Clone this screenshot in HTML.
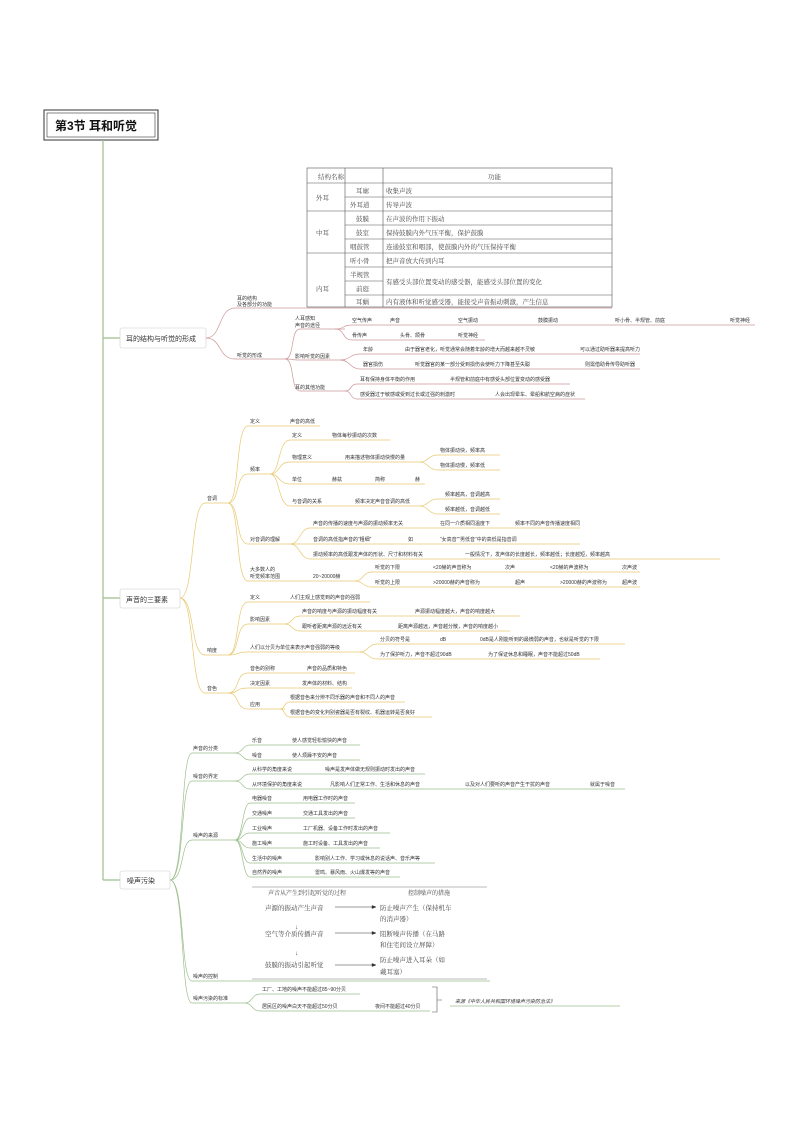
<!DOCTYPE html>
<html><head><meta charset="utf-8"><style>
body{margin:0;background:#fff}
svg{display:block}
text{font-family:"Liberation Sans","Noto Sans CJK SC",sans-serif;font-size:5px;fill:#333}
.t{font-family:"Liberation Serif","Noto Serif CJK SC",serif;font-size:6.5px;fill:#444}
.r{stroke:#c99;fill:none;stroke-width:.7}
.y{stroke:#e8c870;fill:none;stroke-width:.7}
.g{stroke:#9ebf8e;fill:none;stroke-width:.7}
</style></head><body>
<svg width="794" height="1121" viewBox="0 0 794 1121">
<!-- title -->
<rect x="44" y="110" width="114" height="30" fill="#fff" stroke="#333" stroke-width="1"/>
<rect x="47" y="113" width="108" height="24" fill="none" stroke="#333" stroke-width=".6"/>
<text x="55" y="130" style="font-size:12px;font-weight:bold;fill:#111">第3节 耳和听觉</text>
<!-- trunk -->
<path d="M103 140 V880 M103 338 H120 M103 598 H120 M103 880 H120" stroke="#9ebf8e" stroke-width="1.2" fill="none"/>
<rect x="120" y="328" width="86" height="20" rx="2" fill="#fff" stroke="#ccc" stroke-width=".6"/>
<text x="126" y="341" style="font-size:7px">耳的结构与听觉的形成</text>
<rect x="120" y="589" width="60" height="19" rx="2" fill="#fff" stroke="#ccc" stroke-width=".6"/>
<text x="126" y="602" style="font-size:7px">声音的三要素</text>
<rect x="120" y="871" width="50" height="18" rx="2" fill="#fff" stroke="#ccc" stroke-width=".6"/>
<text x="127" y="883" style="font-size:7px">噪声污染</text>

<!-- table -->
<g stroke="#555" stroke-width=".6" fill="none">
<rect x="307" y="168" width="305" height="139"/>
<path d="M307 183H612 M345 197H612 M307 211H612 M345 225H612 M345 239H612 M307 253H612 M345 267H612 M345 281H383 M345 295H612 M345 183V307 M383 168V307 M345 168V183"/>
</g>
<text class="t" x="318" y="179">结构名称</text><text class="t" x="488" y="179">功能</text>
<text class="t" x="316" y="200">外耳</text><text class="t" x="316" y="235">中耳</text><text class="t" x="316" y="291">内耳</text>
<text class="t" x="356" y="193">耳廓</text><text class="t" x="386" y="193">收集声波</text>
<text class="t" x="350" y="207">外耳道</text><text class="t" x="386" y="207">传导声波</text>
<text class="t" x="356" y="221">鼓膜</text><text class="t" x="386" y="221">在声波的作用下振动</text>
<text class="t" x="356" y="235">鼓室</text><text class="t" x="386" y="235">保持鼓膜内外气压平衡，保护鼓膜</text>
<text class="t" x="350" y="249">咽鼓管</text><text class="t" x="386" y="249">连通鼓室和咽部，使鼓膜内外的气压保持平衡</text>
<text class="t" x="350" y="263">听小骨</text><text class="t" x="386" y="263">把声音放大传到内耳</text>
<text class="t" x="350" y="277">半规管</text><text class="t" x="386" y="284">有感受头部位置变动的感受器，能感受头部位置的变化</text>
<text class="t" x="356" y="291">前庭</text>
<text class="t" x="356" y="304">耳蜗</text><text class="t" x="386" y="304">内有液体和听觉感受器，能接受声音振动刺激，产生信息</text>

<!-- Section 1 -->
<g class="r">
<path d="M206 338 C222 338 218 308 235 308 H612"/>
<path d="M206 338 C222 338 218 359 235 359 H285"/>
<path d="M285 359 C295 359 290 329 300 329 H345"/>
<path d="M285 359 C295 359 290 360 300 360 H345"/>
<path d="M285 359 C295 359 290 391 300 391 H345"/>
<path d="M335 329 C345 329 342 325 352 325 H755"/>
<path d="M335 329 C345 329 342 340 352 340 H485"/>
<path d="M340 360 C350 360 350 354 360 354 H640"/>
<path d="M340 360 C350 360 350 369 360 369 H640"/>
<path d="M345 391 C352 391 350 384 357 384 H570"/>
<path d="M345 391 C352 391 350 399 357 399 H585"/>
</g>
<text x="237" y="300">耳的结构</text><text x="237" y="306">及各部分的功能</text>
<text x="237" y="357">听觉的形成</text>
<text x="295" y="320">人耳感知</text><text x="295" y="327">声音的途径</text>
<text x="352" y="322">空气传声</text><text x="390" y="322">声音</text><text x="458" y="322">空气振动</text><text x="538" y="322">鼓膜振动</text><text x="615" y="322">听小骨、半规管、前庭</text><text x="730" y="322">听觉神经</text>
<text x="352" y="337">骨传声</text><text x="400" y="337">头骨、颌骨</text><text x="458" y="337">听觉神经</text>
<text x="295" y="358">影响听觉的因素</text>
<text x="363" y="351">年龄</text><text x="405" y="351">由于器官老化，听觉通常会随着年龄的增大而越来越不灵敏</text><text x="580" y="351">可以通过助听器来提高听力</text>
<text x="363" y="366">器官损伤</text><text x="415" y="366">听觉器官的某一部分受到损伤会使听力下降甚至失聪</text><text x="585" y="366">则需借助骨传导助听器</text>
<text x="295" y="389">耳的其他功能</text>
<text x="360" y="381">耳有保持身体平衡的作用</text><text x="450" y="381">半规管和前庭中有感受头部位置变动的感受器</text>
<text x="360" y="396">感受器过于敏感或受到过长或过强的刺激时</text><text x="495" y="396">人会出现晕车、晕船和航空病的症状</text>

<!-- Section 2 -->
<g class="y">
<path d="M180 598 C195 598 190 503 205 503 H228"/>
<path d="M180 598 C195 598 190 655 205 655 H228"/>
<path d="M180 598 C195 598 190 693 205 693 H228"/>
<path d="M228 503 C240 503 235 426 248 426 H320"/>
<path d="M228 503 C240 503 235 474 248 474 H270"/>
<path d="M228 503 C240 503 235 544 248 544 H290"/>
<path d="M228 503 C240 503 235 581 248 581 H300"/>
<path d="M270 474 C280 474 278 440 290 440 H390"/>
<path d="M270 474 C280 474 278 462 290 462 H420"/>
<path d="M270 474 C280 474 278 484 290 484 H425"/>
<path d="M270 474 C280 474 278 506 290 506 H420"/>
<path d="M420 462 C428 462 428 455 438 455 H500"/>
<path d="M420 462 C428 462 428 470 438 470 H500"/>
<path d="M420 506 C428 506 428 499 438 499 H500"/>
<path d="M420 506 C428 506 428 514 438 514 H500"/>
<path d="M290 544 C300 544 300 528 310 528 H580"/>
<path d="M290 544 C300 544 300 544 310 544 H580"/>
<path d="M290 544 C300 544 300 559 310 559 H720"/>
<path d="M300 581 H355"/>
<path d="M355 581 C363 581 363 572 372 572 H640"/>
<path d="M355 581 C363 581 363 587 372 587 H640"/>
<path d="M228 655 C240 655 235 602 248 602 H370"/>
<path d="M228 655 C240 655 235 624 248 624 H285"/>
<path d="M228 655 C240 655 235 652 248 652 H360"/>
<path d="M285 624 C292 624 292 616 300 616 H520"/>
<path d="M285 624 C292 624 292 631 300 631 H510"/>
<path d="M360 652 C368 652 368 644 377 644 H625"/>
<path d="M360 652 C368 652 368 659 377 659 H600"/>
<path d="M228 693 C240 693 235 673 248 673 H355"/>
<path d="M228 693 C240 693 235 688 248 688 H352"/>
<path d="M228 693 C240 693 235 709 248 709 H285"/>
<path d="M280 709 C285 709 284 702 290 702 H405"/>
<path d="M280 709 C285 709 284 717 290 717 H432"/>
</g>
<text x="207" y="500">音调</text>
<text x="250" y="423">定义</text><text x="290" y="423">声音的高低</text>
<text x="250" y="471">频率</text>
<text x="292" y="437">定义</text><text x="332" y="437">物体每秒振动的次数</text>
<text x="292" y="459">物理意义</text><text x="345" y="459">用来描述物体振动快慢的量</text>
<text x="440" y="452">物体振动快，频率高</text><text x="440" y="467">物体振动慢，频率低</text>
<text x="292" y="481">单位</text><text x="332" y="481">赫兹</text><text x="375" y="481">简称</text><text x="415" y="481">赫</text>
<text x="292" y="503">与音调的关系</text><text x="355" y="503">频率决定声音音调的高低</text>
<text x="445" y="496">频率越高，音调越高</text><text x="445" y="511">频率越低，音调越低</text>
<text x="250" y="541">对音调的理解</text>
<text x="313" y="525">声音的传播的速度与声源的振动频率无关</text><text x="440" y="525">在同一介质相同温度下</text><text x="515" y="525">频率不同的声音传播速度相同</text>
<text x="313" y="541">音调的高低指声音的“粗细”</text><text x="408" y="541">如</text><text x="440" y="541">“女高音”“男低音”中的高低是指音调</text>
<text x="313" y="556">振动频率的高低跟发声体的形状、尺寸和材料有关</text><text x="465" y="556">一般情况下，发声体的长度越长，频率越低；长度越短，频率越高</text>
<text x="250" y="571">大多数人的</text><text x="250" y="578">听觉频率范围</text><text x="313" y="578">20~20000赫</text>
<text x="375" y="569">听觉的下限</text><text x="433" y="569">&lt;20赫的声音称为</text><text x="505" y="569">次声</text><text x="550" y="569">&lt;20赫的声波称为</text><text x="622" y="569">次声波</text>
<text x="375" y="584">听觉的上限</text><text x="433" y="584">&gt;20000赫的声音称为</text><text x="515" y="584">超声</text><text x="560" y="584">&gt;20000赫的声波称为</text><text x="622" y="584">超声波</text>
<text x="207" y="652">响度</text>
<text x="250" y="599">定义</text><text x="290" y="599">人们主观上感觉到的声音的强弱</text>
<text x="250" y="621">影响因素</text>
<text x="302" y="613">声音的响度与声源的振动幅度有关</text><text x="415" y="613">声源振动幅度越大，声音的响度越大</text>
<text x="302" y="628">跟听者距离声源的远近有关</text><text x="398" y="628">距离声源越远，声音越分散，声音的响度越小</text>
<text x="250" y="649">人们以分贝为单位来表示声音强弱的等级</text>
<text x="380" y="641">分贝的符号是</text><text x="440" y="641">dB</text><text x="480" y="641">0dB是人刚能听到的最微弱的声音，也就是听觉的下限</text>
<text x="380" y="656">为了保护听力，声音不超过90dB</text><text x="488" y="656">为了保证休息和睡眠，声音不能超过50dB</text>
<text x="207" y="690">音色</text>
<text x="250" y="670">音色的别称</text><text x="307" y="670">声音的品质和特色</text>
<text x="250" y="685">决定因素</text><text x="302" y="685">发声体的材料、结构</text>
<text x="250" y="706">应用</text>
<text x="290" y="699">根据音色来分辨不同乐器的声音和不同人的声音</text>
<text x="290" y="714">根据音色的变化判别瓷器是否有裂纹、机器运转是否良好</text>

<!-- Section 3 -->
<g class="g">
<path d="M170 880 C185 880 180 753 192 753 H235"/>
<path d="M170 880 C185 880 180 781 192 781 H235"/>
<path d="M170 880 C185 880 180 840 192 840 H235"/>
<path d="M170 880 C185 880 180 981 192 981 H490"/>
<path d="M170 880 C185 880 180 1003 192 1003 H245"/>
<path d="M235 753 C243 753 242 745 250 745 H360"/>
<path d="M235 753 C243 753 242 760 250 760 H360"/>
<path d="M235 781 C243 781 242 774 250 774 H425"/>
<path d="M235 781 C243 781 242 789 250 789 H625"/>
<path d="M235 840 C243 840 242 803 250 803 H355"/>
<path d="M235 840 C243 840 242 818 250 818 H355"/>
<path d="M235 840 C243 840 242 833 250 833 H390"/>
<path d="M235 840 C243 840 242 848 250 848 H380"/>
<path d="M235 840 C243 840 242 863 250 863 H435"/>
<path d="M235 840 C243 840 242 877 250 877 H400"/>
<path d="M245 1003 C252 1003 252 994 260 994 H360"/>
<path d="M245 1003 C252 1003 252 1011 260 1011 H430"/>
</g>
<path d="M252 887 H487 M252 979 H487" stroke="#777" stroke-width=".5"/>
<text x="193" y="750">声音的分类</text>
<text x="252" y="742">乐音</text><text x="292" y="742">使人感觉轻松愉快的声音</text>
<text x="252" y="757">噪音</text><text x="292" y="757">使人烦躁不安的声音</text>
<text x="193" y="778">噪音的界定</text>
<text x="252" y="771">从科学的角度来说</text><text x="325" y="771">噪声是发声体做无规则振动时发出的声音</text>
<text x="252" y="786">从环境保护的角度来说</text><text x="330" y="786">凡影响人们正常工作、生活和休息的声音</text><text x="465" y="786">以及对人们要听的声音产生干扰的声音</text><text x="590" y="786">就属于噪音</text>
<text x="193" y="837">噪声的来源</text>
<text x="252" y="800">电器噪音</text><text x="303" y="800">用电器工作时的声音</text>
<text x="252" y="815">交通噪声</text><text x="303" y="815">交通工具发出的声音</text>
<text x="252" y="830">工业噪声</text><text x="303" y="830">工厂机器、设备工作时发出的声音</text>
<text x="252" y="845">施工噪声</text><text x="303" y="845">施工时设备、工具发出的声音</text>
<text x="252" y="860">生活中的噪声</text><text x="315" y="860">影响别人工作、学习或休息的说话声、音乐声等</text>
<text x="252" y="874">自然界的噪声</text><text x="315" y="874">雷鸣、暴风雨、火山爆发等的声音</text>
<text class="t" x="268" y="895" style="font-size:6px">声音从产生到引起听觉的过程</text><text class="t" x="408" y="895" style="font-size:6px">控制噪声的措施</text>
<text class="t" x="265" y="910">声源的振动产生声音</text><text class="t" x="380" y="910">防止噪声产生（保持机车</text><text class="t" x="380" y="921">的消声器）</text>
<text class="t" x="295" y="929">↓</text>
<text class="t" x="265" y="936">空气等介质传播声音</text><text class="t" x="380" y="936">阻断噪声传播（在马路</text><text class="t" x="380" y="947">和住宅间设立屏障）</text>
<text class="t" x="295" y="955">↓</text>
<text class="t" x="265" y="967">鼓膜的振动引起听觉</text><text class="t" x="380" y="962">防止噪声进入耳朵（如</text><text class="t" x="380" y="974">戴耳塞）</text>
<g stroke="#333" stroke-width=".5" fill="#333">
<path d="M335 907 H372 M335 933 H372 M335 965 H372" fill="none"/>
<path d="M372 905.5 L376 907 L372 908.5Z M372 931.5 L376 933 L372 934.5Z M372 963.5 L376 965 L372 966.5Z"/>
</g>
<text x="193" y="978">噪声的控制</text>
<text x="193" y="1000">噪声污染的标准</text>
<text x="262" y="991">工厂、工地的噪声不能超过85~90分贝</text>
<text x="262" y="1008">居民区的噪声白天不能超过50分贝</text><text x="375" y="1008">夜间不能超过40分贝</text>
<path d="M432 987 H437 V1012 H432 M437 1000 H442" stroke="#555" stroke-width=".6" fill="none"/>
<text x="455" y="1003" style="font-style:italic">来源《中华人民共和国环境噪声污染防治法》</text>
<path d="M450 1006 H620" stroke="#9ebf8e" stroke-width=".7"/>
</svg>
</body></html>
